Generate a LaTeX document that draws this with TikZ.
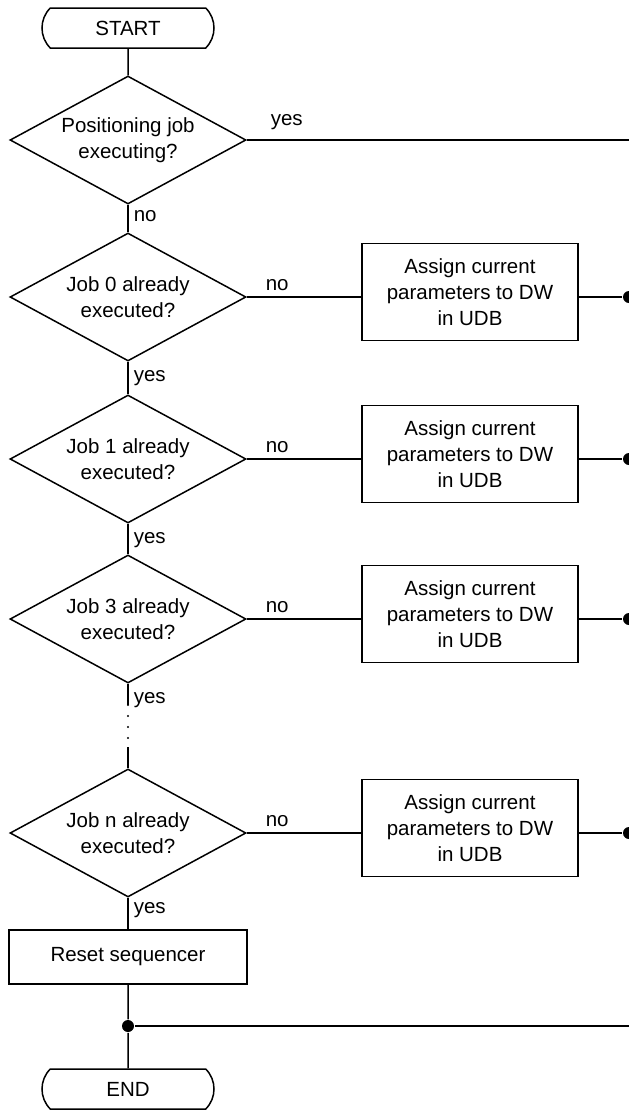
\documentclass[tikz,border=0pt]{standalone}
\usepackage{fontspec}
\setmainfont{Liberation Sans}
\usetikzlibrary{shapes.geometric,shapes.misc}
\begin{document}
\begin{tikzpicture}[x=1pt,y=-1pt,
  line width=1.5pt,
  every node/.style={font=\fontsize{20.5}{26}\selectfont},
  term/.style={draw, rounded rectangle, rounded rectangle arc length=90, minimum width=172pt, minimum height=40pt, inner sep=0pt},
  decision/.style={draw, diamond, aspect=1.84, minimum width=236pt, minimum height=128pt, inner sep=0pt, align=center},
  proc/.style={draw, rectangle, minimum width=216pt, minimum height=97pt, inner sep=0pt, align=center},
  lbl/.style={anchor=west, inner sep=0pt},
  dot/.style={circle, fill, inner sep=0pt, minimum size=12pt}]
\useasboundingbox (0,0) rectangle (629,1112);
\clip (0,0) rectangle (629,1112);

% main column
\node[term] (start) at (128,28) {START};
\node[decision] (d0) at (128,140) {Positioning job\\executing?};
\node[decision] (d1) at (128,297) {Job 0 already\\executed?};
\node[decision] (d2) at (128,459) {Job 1 already\\executed?};
\node[decision] (d3) at (128,619) {Job 3 already\\executed?};
\node[decision] (dn) at (128,833) {Job n already\\executed?};
\node[draw, rectangle, minimum width=238pt, minimum height=54pt, inner sep=0pt] (reset) at (128,957) {Reset sequencer};
\node[dot] (junc) at (128,1026) {};
\node[term] (end) at (128,1089) {END};

% process boxes
\node[proc] (p1) at (470,292) {Assign current\\parameters to DW\\in UDB};
\node[proc] (p2) at (470,454) {Assign current\\parameters to DW\\in UDB};
\node[proc] (p3) at (470,614) {Assign current\\parameters to DW\\in UDB};
\node[proc] (pn) at (470,828) {Assign current\\parameters to DW\\in UDB};

% right-edge junctions
\coordinate (r0) at (629,140);
\node[dot] (r1) at (629,297) {};
\node[dot] (r2) at (629,459) {};
\node[dot] (r3) at (629,619) {};
\node[dot] (rn) at (629,833) {};
\coordinate (rend) at (629,1026);

% gap coordinates
\coordinate (g1) at (128,705);
\coordinate (g2) at (128,747);

% vertical flow
\draw (start) -- (d0);
\draw (d0) -- (d1);
\draw (d1) -- (d2);
\draw (d2) -- (d3);
\draw (d3.south) -- (g1);
\draw[line cap=round, dash pattern=on 0pt off 11pt, line width=2.4pt] (g1) -- (g2);
\draw (g2) -- (dn.north);
\draw (dn) -- (reset);
\draw (reset) -- (junc) -- (end);

% horizontal branches
\draw (d0.east) -- (r0);
\draw (d1.east) -- (d1.east -| p1.west);
\draw (d2.east) -- (d2.east -| p2.west);
\draw (d3.east) -- (d3.east -| p3.west);
\draw (dn.east) -- (dn.east -| pn.west);
\draw (d1.east -| p1.east) -- (r1);
\draw (d2.east -| p2.east) -- (r2);
\draw (d3.east -| p3.east) -- (r3);
\draw (dn.east -| pn.east) -- (rn);
\draw (junc) -- (rend);

% labels
\node[lbl] (l0y) at (270,122) {yes};
\node[lbl] (l0n) at (133,216) {no};
\node[lbl] (l1n) at (265,285) {no};
\node[lbl] (l1y) at (133,378) {yes};
\node[lbl] (l2n) at (265,447) {no};
\node[lbl] (l2y) at (133,540) {yes};
\node[lbl] (l3n) at (265,607) {no};
\node[lbl] (l3y) at (133,700) {yes};
\node[lbl] (lnn) at (265,821) {no};
\node[lbl] (lny) at (133,910) {yes};
\end{tikzpicture}
\end{document}
